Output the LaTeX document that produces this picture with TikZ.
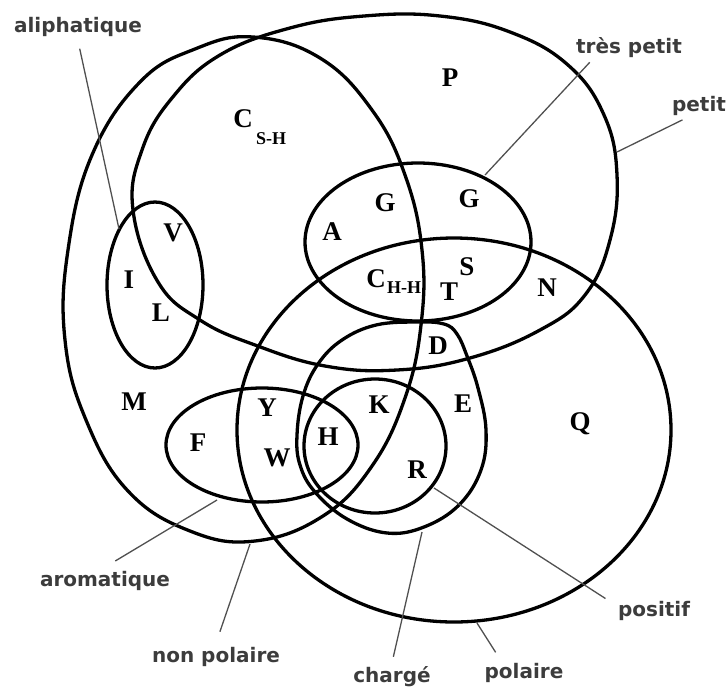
\documentclass[tikz,border=0pt]{standalone}
\usepackage{fontspec}
\setmainfont{Liberation Serif}
\newfontfamily\etiqfont{DejaVu Sans}
\usetikzlibrary{positioning}
\definecolor{etiqC}{HTML}{3C3C3C}
\definecolor{renvoiC}{HTML}{505050}
\tikzset{
  ens/.style={draw=black, line width=3.3pt},
  lettre/.style={font=\fontsize{27}{30}\selectfont\bfseries, inner sep=0pt},
  indice/.style={font=\fontsize{18}{20}\selectfont\bfseries, inner sep=0pt},
  etiq/.style={font=\etiqfont\fontsize{20}{24}\selectfont\bfseries, text=etiqC, inner sep=4pt},
  renvoi/.style={draw=renvoiC, line width=1.3pt},
}

\begin{document}
\begin{tikzpicture}[x=1pt, y=-1pt]
    \useasboundingbox (0,0) rectangle (728,689);

    % les ensembles
    \draw[ens] plot[smooth cycle, tension=0.7] coordinates {
      (133,210) (142,150) (172,98) (220,55) (290,28) (364,16) (440,16) (510,32)
      (568,65) (604,115) (617,175) (610,240) (585,295) (540,330) (470,358) (397,370)
      (325,366) (255,345) (200,320) (158,282)}; % petit
    \draw[ens] plot[smooth cycle, tension=0.7] coordinates {
      (253,37) (320,58) (372,110) (405,175) (422,250) (421,325) (405,398) (372,466)
      (323,516) (255,541) (190,531) (128,491) (86,420) (65,340) (68,250) (92,155)
      (140,82) (195,49)}; % non polaire
    \draw[ens] (454,430) ellipse [x radius=217, y radius=192]; % polaire
    \draw[ens] (418,242) ellipse [x radius=113, y radius=79]; % tres petit
    \draw[ens] (155,285) ellipse [x radius=48, y radius=83]; % aliphatique
    \draw[ens] (262,445) ellipse [x radius=96, y radius=57]; % aromatique
    \draw[ens] plot[smooth cycle, tension=0.65] coordinates {
      (297,435) (303,396) (318,364) (342,340) (376,325) (417,322) (444,324) (457,334)
      (467,356) (478,388) (486,430) (481,470) (459,505) (424,527) (387,533) (347,519)
      (315,492) (300,465)}; % charge
    \draw[ens] (375,446) ellipse [x radius=71, y radius=67]; % positif

    % acides amines
    \node[lettre] (P) at (450,78) {P};
    \node[lettre] (Csh) at (243,119) {C};
    \node[indice] (CshI) at (271,139) {S-H};
    \node[lettre] (V) at (173,233) {V};
    \node[lettre] (I) at (129,280) {I};
    \node[lettre] (L) at (161,313) {L};
    \node[lettre] (A) at (332,232) {A};
    \node[lettre] (G1) at (385,203) {G};
    \node[lettre] (G2) at (469,199) {G};
    \node[lettre] (Chh) at (376,279) {C};
    \node[indice] (ChhI) at (404,288) {H-H};
    \node[lettre] (S) at (467,267) {S};
    \node[lettre] (T) at (449,292) {T};
    \node[lettre] (N) at (547,288) {N};
    \node[lettre] (D) at (438,346) {D};
    \node[lettre] (M) at (134,402) {M};
    \node[lettre] (F) at (198,443) {F};
    \node[lettre] (Y) at (267,408) {Y};
    \node[lettre] (W) at (277,458) {W};
    \node[lettre] (H) at (328,437) {H};
    \node[lettre] (K) at (379,405) {K};
    \node[lettre] (E) at (463,404) {E};
    \node[lettre] (R) at (417,470) {R};
    \node[lettre] (Q) at (580,424) {Q};

    % etiquettes
    \node[etiq] (lAli) at (78,27) {aliphatique};
    \node[etiq] (lTp) at (629,48) {très petit};
    \node[etiq] (lPe) at (699,106) {petit};
    \node[etiq] (lAro) at (105,581) {aromatique};
    \node[etiq] (lNp) at (216,657) {non polaire};
    \node[etiq] (lCh) at (392,677) {chargé};
    \node[etiq] (lPo) at (524,673) {polaire};
    \node[etiq] (lPos) at (654,611) {positif};

    % renvois
    \coordinate (tAli) at (119,229);
    \coordinate (tTp) at (485,175);
    \coordinate (tPe) at (617,152);
    \coordinate (tAro) at (217,500);
    \coordinate (tNp) at (250,544);
    \coordinate (tCh) at (422,532);
    \coordinate (tPo) at (477,623);
    \coordinate (tPos) at (434,488);
    \draw[renvoi, shorten <=8pt] (lAli.south) -- (tAli);
    \draw[renvoi] (lTp.-160) -- (tTp);
    \draw[renvoi] (lPe.-140) -- (tPe);
    \draw[renvoi, shorten <=12pt] (lAro.north) -- (tAro);
    \draw[renvoi, shorten <=12pt] (lNp.north) -- (tNp);
    \draw[renvoi, shorten <=6pt] (lCh.north) -- (tCh);
    \draw[renvoi, shorten <=8pt] (lPo.150) -- (tPo);
    \draw[renvoi, shorten <=10pt] (lPos.170) -- (tPos);
\end{tikzpicture}
\end{document}
